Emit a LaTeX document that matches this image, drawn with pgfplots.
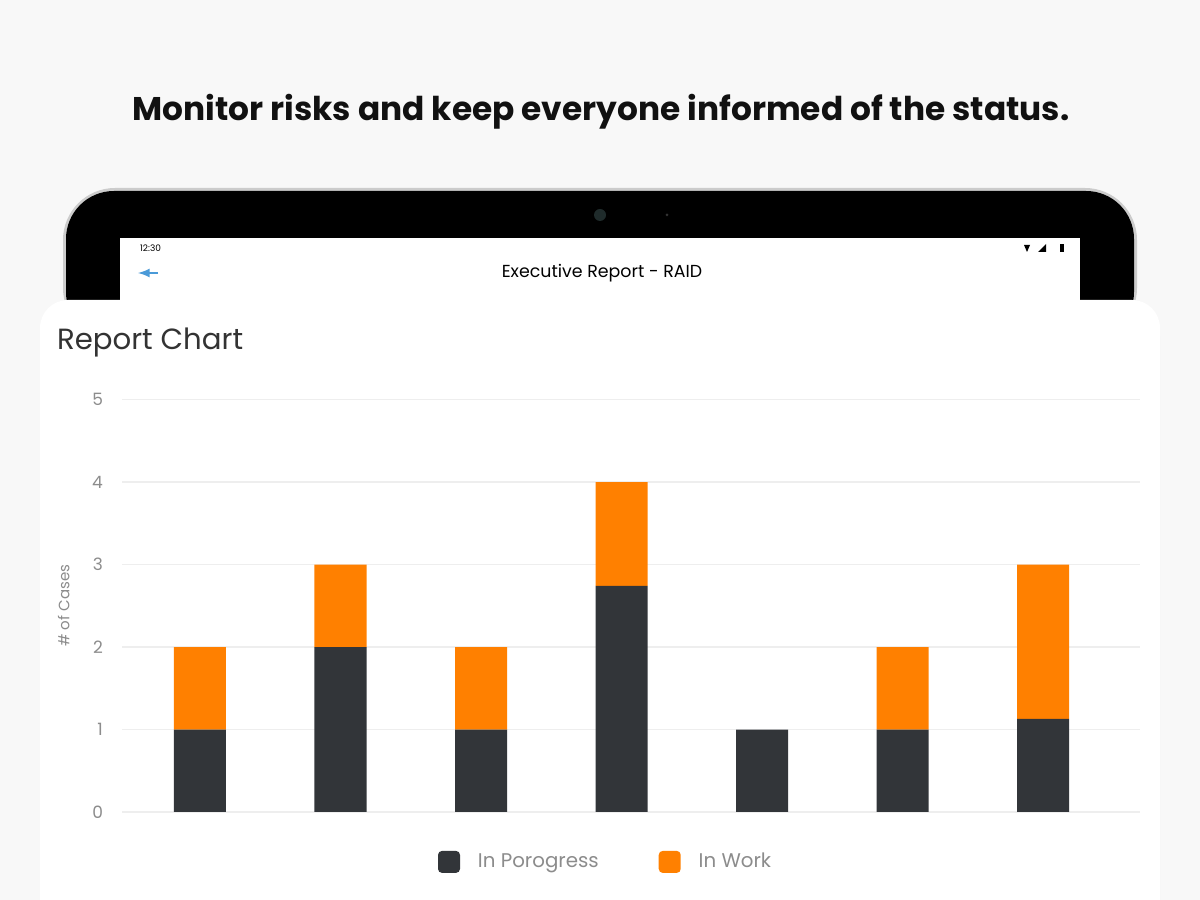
\documentclass[border=0pt]{standalone}
\usepackage{pgfplots}
\pgfplotsset{compat=1.18}
\usepackage{fontspec}
\setmainfont{Poppins}
\usetikzlibrary{shadows}
\definecolor{bg}{HTML}{F8F8F8}
\definecolor{darkbar}{HTML}{323539}
\definecolor{orangebar}{HTML}{FF8000}
\definecolor{gridc}{HTML}{EEEEEE}
\definecolor{ticktext}{HTML}{8C8C8C}
\definecolor{titletext}{HTML}{111111}
\definecolor{cardtext}{HTML}{333333}
\definecolor{backblue}{HTML}{4A9AD8}
\definecolor{camera}{HTML}{1F2B2B}

\pgfplotstableread{
x prog work
0 1    1
1 2    1
2 1    1
3 2.74 1.26
4 1    0
5 1    1
6 1.13 1.87
}\cases

\begin{document}
\begin{tikzpicture}[x=0.5pt,y=0.5pt]
\clip (0,0) rectangle (1200,900);
\fill[bg] (0,0) rectangle (1200,900);
% headline
\node[font=\fontsize{16.4}{20}\selectfont\bfseries, text=titletext] at (601,788) {Monitor risks and keep everyone informed of the status.};
% tablet
\fill[gray!40, rounded corners=26] (63,712) rectangle (1137,560);
\fill[black, rounded corners=24] (66,709) rectangle (1134,560);
\fill[camera] (600,685) circle (6);
\fill[gray!40!black] (667,685) circle (1.5);
\fill[white] (120,662) rectangle (1080,600);
\node[font=\fontsize{4.5}{5}\selectfont, anchor=west] at (133,652) {12:30};
\fill[black] (1024,655) -- (1030,655) -- (1027,648) -- cycle;
\fill[black] (1038,648) -- (1046,656) -- (1046,648) -- cycle;
\fill[black] (1060,648) rectangle (1064,656);
\node[font=\fontsize{8.7}{10}\selectfont] at (602,627) {Executive Report - RAID};
\draw[backblue, line width=1pt, -latex] (158,627) -- (138,627);
% card
\fill[white, rounded corners=14, drop shadow={opacity=0.08, shadow xshift=0pt, shadow yshift=-4pt}] (40,600) rectangle (1160,-40);
\node[font=\fontsize{14.6}{16}\selectfont, text=cardtext, anchor=west] at (50,558) {Report Chart};

\begin{axis}[
    at={(61pt,44pt)}, anchor=south west,
    scale only axis, width=509pt, height=206.25pt,
    ybar stacked, bar width=26pt,
    xmin=-0.555, xmax=6.69,
    ymin=0, ymax=5,
    ytick={0,1,2,3,4,5},
    xtick=\empty,
    axis line style={draw=none},
    major tick length=0pt,
    ymajorgrids, grid style={gridc, line width=0.7pt},
    /pgf/number format/assume math mode=true,
    yticklabel style={font=\fontsize{8.5}{10}\selectfont, text=ticktext, xshift=-6pt},
    ylabel={\# of Cases},
    ylabel style={font=\fontsize{7.5}{9}\selectfont, text=ticktext, yshift=4.5pt},
    legend columns=2,
    legend style={at={(0.476,-0.121)}, anchor=center, draw=none, fill=none,
        font=\fontsize{9.9}{11}\selectfont, text=ticktext,
        /tikz/every even column/.append style={column sep=28pt}},
    legend image code/.code={\fill[#1, draw=none, rounded corners=2pt] (0pt,-5.5pt) rectangle (11pt,5.5pt);
        \path (18pt,0pt);},
]
\addplot[fill=darkbar, draw=none] table[x=x, y=prog] {\cases};
\addplot[fill=orangebar, draw=none] table[x=x, y=work] {\cases};
\legend{In Porogress, In Work}
\end{axis}
\end{tikzpicture}
\end{document}
